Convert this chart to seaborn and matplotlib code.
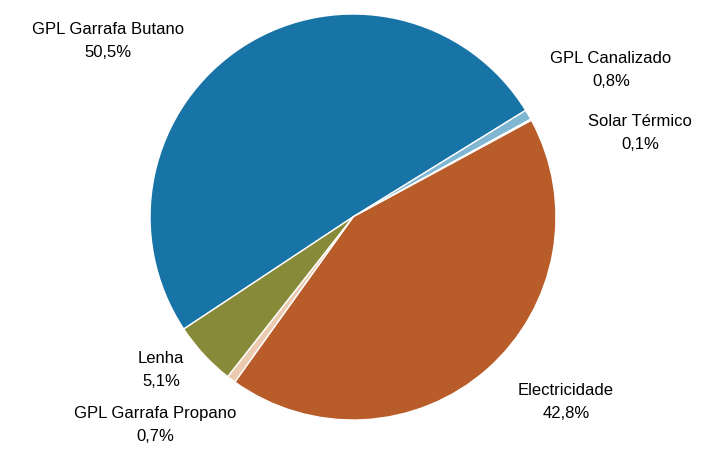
import matplotlib
matplotlib.use("Agg")
import matplotlib.pyplot as plt
import seaborn as sns

categories = [
    "GPL Garrafa Butano",
    "GPL Canalizado",
    "Solar Térmico",
    "Electricidade",
    "GPL Garrafa Propano",
    "Lenha",
]
shares = [50.5, 0.8, 0.1, 42.8, 0.7, 5.1]
share_labels = ["50,5%", "0,8%", "0,1%", "42,8%", "0,7%", "5,1%"]

colors = ["#1874A6", "#7FB6D2", "#DDECF3", "#B85C29", "#EBCBB0", "#878A38"]

# label anchor points in pie units (radius = 1)
label_pos = {
    "GPL Garrafa Butano": (-1.207, 0.867),
    "GPL Canalizado": (1.271, 0.724),
    "Solar Térmico": (1.414, 0.414),
    "Electricidade": (1.049, -0.911),
    "GPL Garrafa Propano": (-0.975, -1.025),
    "Lenha": (-0.946, -0.754),
}

sns.set_theme(style="white")
plt.rcParams["font.family"] = ["Liberation Sans", "DejaVu Sans"]

fig = plt.figure(figsize=(7.1, 4.49), dpi=100)
ax = fig.add_axes([0.2113, 0.0646, 0.5718, 0.9042])

ax.pie(
    shares,
    colors=colors,
    startangle=213.5,
    counterclock=False,
    radius=1,
    wedgeprops={"edgecolor": "white", "linewidth": 1.0},
)
ax.set_xlim(-1, 1)
ax.set_ylim(-1, 1)
ax.set_aspect("auto")
ax.axis("off")

for cat, lab in zip(categories, share_labels):
    x, y = label_pos[cat]
    ax.text(x, y, f"{cat}\n{lab}", ha="center", va="center", fontsize=12,
            linespacing=1.65, color="black", clip_on=False)

plt.savefig("out.png", dpi=100)
